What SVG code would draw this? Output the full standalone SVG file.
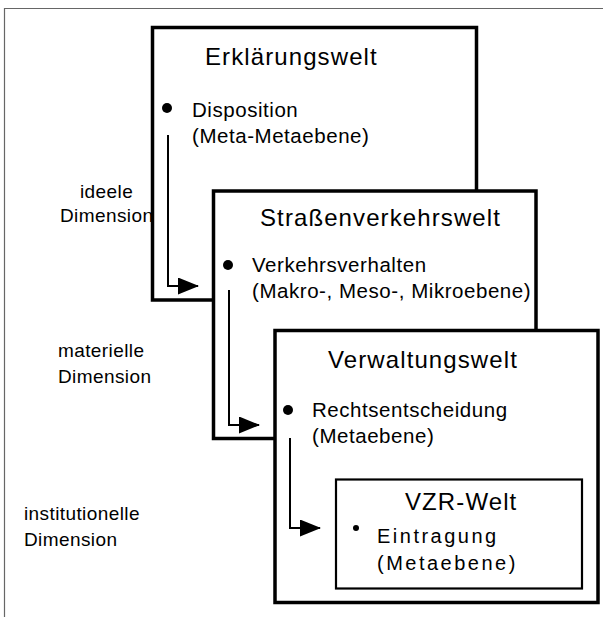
<svg xmlns="http://www.w3.org/2000/svg" width="603" height="617" viewBox="0 0 603 617">
  <style>
    text { font-family: "Liberation Sans", Arial, Helvetica, sans-serif; fill: #000; }
    .frame { fill: none; stroke: #666; stroke-width: 1.2; }
    .box { fill: #fff; stroke: #000; stroke-width: 3.5; }
    .inner { fill: #fff; stroke: #000; stroke-width: 2.2; }
    .title { font-size: 24px; letter-spacing: 1.1px; }
    .body { font-size: 20.5px; letter-spacing: 0.55px; }
    .side { font-size: 19px; letter-spacing: 0.4px; }
    .sparse { font-size: 20px; letter-spacing: 2.5px; }
    .flow { fill: none; stroke: #000; stroke-width: 2; }
  </style>
  <defs>
    <marker id="head" viewBox="0 0 21 17" refX="20" refY="8.5" markerWidth="21" markerHeight="17" markerUnits="userSpaceOnUse" orient="auto">
      <path d="M0,0 L21,8.5 L0,17 Z" fill="#000"/>
    </marker>
  </defs>

  <!-- surrounding frame -->
  <path class="frame" d="M4.5,617 V8.5 H603"/>

  <!-- dimension labels -->
  <g id="labels">
    <text class="side" x="80" y="198">ideele</text>
    <text class="side" x="60" y="222">Dimension</text>
    <text class="side" x="58" y="357">materielle</text>
    <text class="side" x="58" y="383">Dimension</text>
    <text class="side" x="24" y="520">institutionelle</text>
    <text class="side" x="24" y="546">Dimension</text>
  </g>

  <g id="erklaerungswelt">
    <rect class="box" x="152.5" y="27.5" width="324" height="272.5"/>
    <text class="title" x="205" y="65">Erklärungswelt</text>
    <circle cx="167" cy="108" r="5"/>
    <text class="body" x="192" y="117">Disposition</text>
    <text class="body" x="192" y="143">(Meta-Metaebene)</text>
  </g>

  <g id="connector-1">
    <path class="flow" d="M168,135 V286 H198" marker-end="url(#head)"/>
  </g>

  <g id="strassenverkehrswelt">
    <rect class="box" x="213.5" y="191" width="322.5" height="247.5"/>
    <text class="title" x="260" y="226">Straßenverkehrswelt</text>
    <circle cx="228" cy="265" r="5"/>
    <text class="body" x="252" y="272">Verkehrsverhalten</text>
    <text class="body" x="252" y="298">(Makro-, Meso-, Mikroebene)</text>
  </g>

  <g id="connector-2">
    <path class="flow" d="M229,290 V425 H259" marker-end="url(#head)"/>
  </g>

  <g id="verwaltungswelt">
    <rect class="box" x="275" y="330.5" width="323" height="272"/>
    <text class="title" x="328" y="368">Verwaltungswelt</text>
    <circle cx="288" cy="410" r="5"/>
    <text class="body" x="312" y="417">Rechtsentscheidung</text>
    <text class="body" x="312" y="443">(Metaebene)</text>
  </g>

  <g id="connector-3">
    <path class="flow" d="M290,438 V528 H320" marker-end="url(#head)"/>
  </g>

  <g id="vzr-welt">
    <rect class="inner" x="336" y="479.5" width="246" height="109"/>
    <text class="title" x="405" y="510">VZR-Welt</text>
    <circle cx="356" cy="528" r="3"/>
    <text class="sparse" x="377" y="543">Eintragung</text>
    <text class="sparse" x="377" y="570">(Metaebene)</text>
  </g>
</svg>
